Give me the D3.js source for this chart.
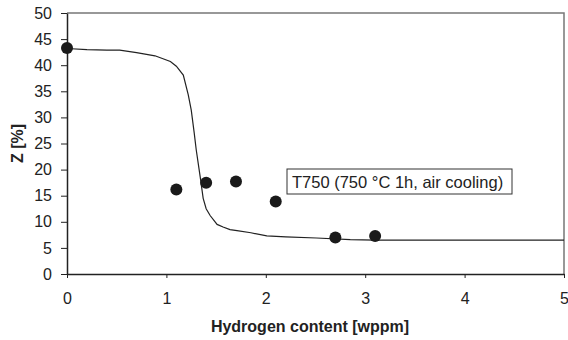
<!DOCTYPE html>
<html>
<head>
<meta charset="utf-8">
<script src="https://cdn.jsdelivr.net/npm/d3@7"></script>
<style>
  body { margin: 0; background: #fff; }
  svg { display: block; font-family: Arial, "Liberation Sans", sans-serif; }
</style>
</head>
<body>
<div id="chart"></div>
<script>
// ---- DATA ----
const xTicks = [0, 1, 2, 3, 4, 5];
const yTicks = [0, 5, 10, 15, 20, 25, 30, 35, 40, 45, 50];

// measured points (hydrogen wppm, Z %)
const pointH = [0, 1.1, 1.4, 1.7, 2.1, 2.7, 3.1];
const pointZ = [43.3, 16.2, 17.5, 17.7, 13.9, 7.0, 7.3];

// fitted curve
const curveH = [0, 0.2, 0.4, 0.53, 0.7, 0.885, 1.04, 1.1, 1.17, 1.22, 1.25, 1.28, 1.30, 1.34, 1.37, 1.40, 1.44, 1.51, 1.57, 1.64, 1.71, 1.85, 2.01, 2.2, 2.51, 2.85, 3.1, 4, 5];
const curveZ = [43.2, 43.0, 42.9, 42.9, 42.4, 41.8, 40.7, 39.8, 38.1, 34.3, 31.4, 27.0, 23.8, 18.6, 14.5, 12.5, 11.2, 9.5, 9.0, 8.5, 8.3, 7.9, 7.3, 7.1, 6.9, 6.6, 6.5, 6.5, 6.5];

const labelText = 'T750 (750 °C 1h, air cooling)';
const xTitle = 'Hydrogen content [wppm]';
const yTitle = 'Z [%]';

// ---- LAYOUT ----
const W = 568, H = 340;
const plot = { left: 67, top: 13, right: 564, bottom: 274 };
const FONT = 'Arial, "Liberation Sans", sans-serif';

const svg = d3.select('#chart').append('svg')
  .attr('width', W).attr('height', H);

const x = d3.scaleLinear().domain([0, 5]).range([plot.left, plot.right]);
const y = d3.scaleLinear().domain([0, 50]).range([plot.bottom, plot.top]);

// grey frame top/right
svg.append('path')
  .attr('d', `M${plot.left},${plot.top}H${plot.right}V${plot.bottom}`)
  .attr('fill', 'none').attr('stroke', '#777').attr('stroke-width', 1.5);

// y axis
const yAxis = svg.append('g')
  .attr('transform', `translate(${plot.left},0)`)
  .call(d3.axisLeft(y).tickValues(yTicks).tickSize(6).tickPadding(9).tickSizeOuter(0));
yAxis.select('.domain').attr('stroke', '#222').attr('stroke-width', 1.5);
yAxis.selectAll('.tick line').attr('stroke', '#222');
yAxis.selectAll('text').attr('font-size', 16).attr('fill', '#222').attr('font-family', FONT);

// x axis
const xAxis = svg.append('g')
  .attr('transform', `translate(0,${plot.bottom})`)
  .call(d3.axisBottom(x).tickValues(xTicks).tickFormat(d3.format('d')).tickSize(4).tickPadding(15).tickSizeOuter(0));
xAxis.select('.domain').attr('stroke', '#222').attr('stroke-width', 1.5);
xAxis.selectAll('.tick line').attr('stroke', '#222');
xAxis.selectAll('text').attr('font-size', 16).attr('fill', '#222').attr('font-family', FONT);

// curve
const line = d3.line().x(d => x(d[0])).y(d => y(d[1]));
svg.append('path')
  .datum(d3.zip(curveH, curveZ))
  .attr('d', line)
  .attr('fill', 'none').attr('stroke', '#222').attr('stroke-width', 1.2);

// points
svg.append('g').selectAll('circle')
  .data(d3.zip(pointH, pointZ))
  .join('circle')
  .attr('cx', d => x(d[0])).attr('cy', d => y(d[1]))
  .attr('r', 6).attr('fill', '#1a1a1a');

// label box
const lbl = svg.append('g').attr('transform', 'translate(287,169)');
lbl.append('rect')
  .attr('width', 225).attr('height', 25)
  .attr('fill', '#fff').attr('stroke', '#333').attr('stroke-width', 1);
lbl.append('text')
  .attr('x', 5).attr('y', 18.5)
  .attr('font-size', 16.5).attr('fill', '#222')
  .text(labelText);

// axis titles
svg.append('text')
  .attr('x', 310).attr('y', 332)
  .attr('text-anchor', 'middle')
  .attr('font-size', 16).attr('font-weight', 'bold').attr('fill', '#222')
  .text(xTitle);

svg.append('text')
  .attr('transform', `translate(23,${(plot.top + plot.bottom) / 2}) rotate(-90)`)
  .attr('text-anchor', 'middle')
  .attr('font-size', 16).attr('font-weight', 'bold').attr('fill', '#222')
  .text(yTitle);
</script>
</body>
</html>
